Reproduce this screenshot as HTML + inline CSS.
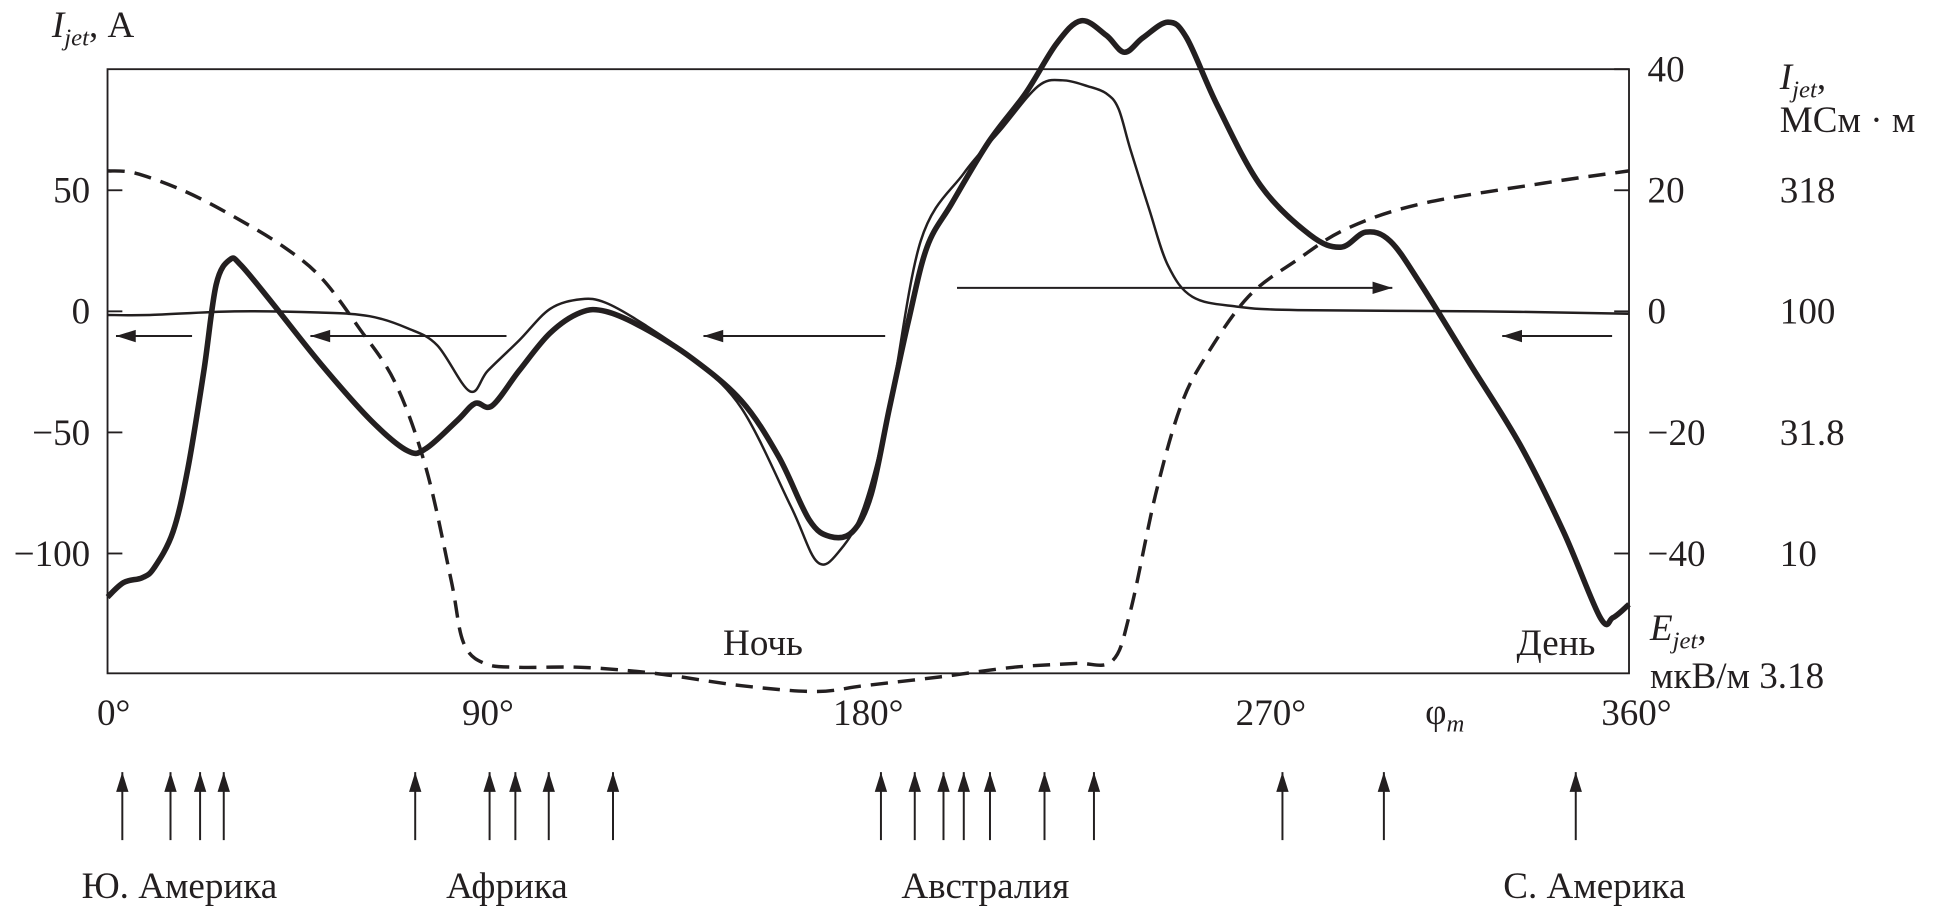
<!DOCTYPE html>
<html><head><meta charset="utf-8"><style>
html,body{margin:0;padding:0;background:#fff;}
svg{display:block;}
text{font-family:"Liberation Serif","Noto Serif CJK SC",serif;fill:#231f20;}
</style></head><body>
<svg id="chart" width="1938" height="913" viewBox="0 0 1568 739" preserveAspectRatio="none" xmlns="http://www.w3.org/2000/svg">
<g id="axes"></g>
<g id="series"></g>
<g id="labels">
<text x="42" y="30" font-size="30"><tspan font-style="italic">I</tspan><tspan font-style="italic" font-size="20" dy="7">jet</tspan><tspan dy="-7">, А</tspan></text>
<text x="1440" y="72" font-size="30"><tspan font-style="italic">I</tspan><tspan font-style="italic" font-size="20" dy="7">jet</tspan><tspan dy="-7">,</tspan></text>
<text x="1440" y="107" font-size="30">МСм · м</text>
<text x="1335" y="518" font-size="30"><tspan font-style="italic">E</tspan><tspan font-style="italic" font-size="20" dy="7">jet</tspan><tspan dy="-7">,</tspan></text>
<text x="1335" y="557" font-size="30">мкВ/м 3.18</text>
<text x="585" y="530" font-size="30">Ночь</text>
<text x="1227" y="530" font-size="30">День</text>
<text x="1153" y="586" font-size="30">φ<tspan font-style="italic" font-size="20" dy="6">m</tspan></text>
</g>
</svg>
<script>
const xTicks=[0,90,180,270,360];
const yTicksLeft=[50,0,-50,-100];
const yTicksRight=[40,20,0,-20,-40];
const yTicksThird=["318","100","31.8","10"];
const thickX=[0,3.8,8.2,11,15.5,19,22.8,25.7,29,31.6,38.9,50.6,62.3,71,75.4,82.8,87,91,97.4,104.7,111.9,117.8,126.6,138.3,150,158.8,166,171,176.3,180.7,185,189.5,193.9,199.7,208.5,217.2,224.6,230.4,236.3,240.6,245,250.9,255.3,262.6,272.8,284.5,291.8,297.7,303.5,310.8,322.5,334.2,344.5,353.2,356.2,360];
const thickY=[-118,-112,-110,-106,-91,-65,-24.5,11,21.4,19,3.6,-22,-45,-57.6,-56.6,-45,-38,-39,-24.5,-9,-0.5,0,-6.6,-19.4,-37,-60,-86,-93,-91,-75.5,-40,-4,26.5,44.4,70,90,110.7,120,114,107,113,119.4,113,85,52,31.6,26.5,32.7,29,11,-22,-55,-91,-126.5,-126.5,-121];
const thinX=[0,10,30,50,62,71,78,85.7,90,97.4,104.7,112,117.8,126.6,138.3,150,161.7,168,173.4,179,185,192.4,202.6,211.4,220.2,226,231.9,236.3,239.2,242,246.5,250.9,256.7,267,281.6,325,360];
const thinY=[-1.5,-1.5,0,-0.5,-2,-7,-14,-33,-24.5,-12,1,5,3.6,-5,-19.4,-40,-80.6,-103.6,-98.5,-80.6,-40,29,57,75,93,95.4,93,90,83.7,67,42,19,6,2,0.5,0,-1];
const dashX=[0,6.7,18.4,30,41.8,50.6,59.4,68.1,75.4,81.3,84.2,89.2,97.4,112,129.5,150,167.5,179,196.8,214.3,229,237.7,242,248,253.8,259.6,269.9,281.6,293.3,310.8,340,360];
const dashY=[58,57,49.5,39,26.5,13.8,-6.6,-29.6,-65,-111,-136.7,-145.4,-147,-147,-149.5,-154.6,-157,-154.6,-151,-147,-145.4,-144.4,-124,-75.5,-39.8,-19.4,6,21.4,34.2,44.4,53,58];
const arrowsFrom=[20,94.4,184,201,356];
const arrowsTo=[2,48,141,304,330];
const arrowsY=[-10.2,-10.2,-10.2,9.7,-10.2];
const sitesDeg=[3.5,14.9,21.9,27.5,72.8,90.4,96.5,104.4,119.6,183,191,197.8,202.6,208.8,221.7,233.4,278,302,347.4];
const regionNames=["Ю. Америка","Африка","Австралия","С. Америка"];
const regionDeg=[17,94.5,207.7,351.8];

const L=87,R=1318,T=56,B=545;
const X=d=>L+(d/360)*(R-L);
const Y=v=>252-(v/50)*98;
const NS="http://www.w3.org/2000/svg";
function mk(tag,attrs,parent){const e=document.createElementNS(NS,tag);for(const k in attrs)e.setAttribute(k,attrs[k]);parent.appendChild(e);return e;}
const ax=document.getElementById('axes'),sg=document.getElementById('series'),lg=document.getElementById('labels');
const frame=mk('rect',{x:L,y:T,width:R-L,height:B-T,fill:'none',stroke:'#231f20','stroke-width':1.5},ax);


yTicksLeft.forEach(v=>{
 const t=mk('line',{x1:L,x2:L+12,y1:Y(v),y2:Y(v),stroke:'#231f20','stroke-width':1.5},ax);
 
 
 const s=mk('text',{x:L-14,y:Y(v)+10,'font-size':30,'text-anchor':'end'},lg);s.textContent=(v<0?'\u2212':'')+Math.abs(v);
 
 
});
yTicksRight.forEach(v=>{
 const yy=Y(v*2.5);
 const t=mk('line',{x1:R-12,x2:R,y1:yy,y2:yy,stroke:'#231f20','stroke-width':1.5},ax);
 
 
 const s=mk('text',{x:R+15,y:yy+10,'font-size':30},lg);s.textContent=(v<0?'\u2212':'')+Math.abs(v);
 
 
});
yTicksThird.forEach((lab,i)=>{
 const s=mk('text',{x:1440,y:Y(50-50*i)+10,'font-size':30},lg);s.textContent=lab;
 
 
});
xTicks.forEach(d=>{
 const s=mk('text',{x:X(d)+(d===0?5:d===360?6:d===270?18:0),y:587,'font-size':30,'text-anchor':'middle'},lg);s.textContent=d+'°';
 
 
});
function path(xs,ys){const p=xs.map((x,i)=>[X(x),Y(ys[i])]);let d='M'+p[0][0]+','+p[0][1];
 for(let i=0;i<p.length-1;i++){const p0=p[i-1]||p[i],p1=p[i],p2=p[i+1],p3=p[i+2]||p2;
 d+=' C'+(p1[0]+(p2[0]-p0[0])/6)+','+(p1[1]+(p2[1]-p0[1])/6)+' '+(p2[0]-(p3[0]-p1[0])/6)+','+(p2[1]-(p3[1]-p1[1])/6)+' '+p2[0]+','+p2[1];}return d;}
const s1=mk('path',{d:path(thickX,thickY),fill:'none',stroke:'#231f20','stroke-width':4.5,'stroke-linejoin':'round'},sg);


const s2=mk('path',{d:path(thinX,thinY),fill:'none',stroke:'#231f20','stroke-width':2},sg);


const s3=mk('path',{d:path(dashX,dashY),fill:'none',stroke:'#231f20','stroke-width':2.8,'stroke-dasharray':'14 8'},sg);


function arrow(x1,y1,x2,y2,name){const g=mk('g',{},sg);
 
 
 mk('line',{x1:x1,y1:y1,x2:x2,y2:y2,stroke:'#231f20','stroke-width':1.6},g);
 const a=Math.atan2(y2-y1,x2-x1),l=16,w=5;
 const bx=x2-l*Math.cos(a),by=y2-l*Math.sin(a);
 mk('polygon',{points:x2+','+y2+' '+(bx-w*Math.sin(a))+','+(by+w*Math.cos(a))+' '+(bx+w*Math.sin(a))+','+(by-w*Math.cos(a)),fill:'#231f20'},g);}
arrowsFrom.forEach((f,i)=>arrow(X(f),Y(arrowsY[i]),X(arrowsTo[i]),Y(arrowsY[i]),'direction-arrow'));
sitesDeg.forEach(d=>arrow(X(d),680,X(d),625,'site-arrow'));
regionNames.forEach((n,i)=>{const s=mk('text',{x:X(regionDeg[i]),y:727,'font-size':30,'text-anchor':'middle'},lg);s.textContent=n;
 
 });
</script>
</body></html>
